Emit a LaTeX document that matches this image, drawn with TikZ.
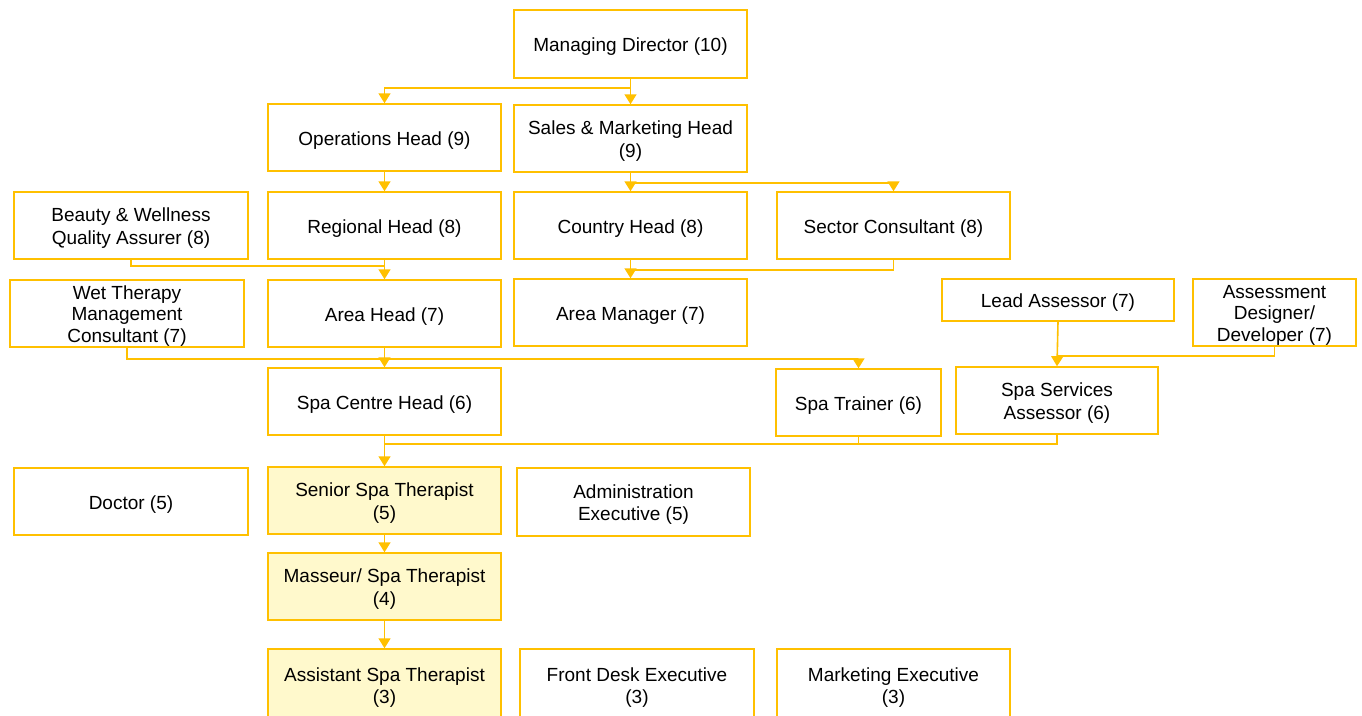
\documentclass[tikz,border=0pt]{standalone}
\usepackage{fontspec}
\setmainfont{Liberation Sans}
\usetikzlibrary{arrows.meta,calc}
\definecolor{gold}{RGB}{255,192,0}
\definecolor{paleyellow}{RGB}{255,249,204}
\tikzset{sz/.style 2 args={minimum width=#1pt,minimum height=#2pt}}
\newcommand\txt[1]{\raisebox{-3pt}[\height][\depth]{\begin{tabular}{@{}c@{}}#1\end{tabular}}}
\begin{document}
\begin{tikzpicture}[x=1pt,y=-1pt,
  box/.style={draw=gold, line width=1.5pt, fill=white, inner xsep=2pt, inner ysep=0pt,
              font=\fontsize{19}{22.5}\selectfont, text=black},
  three/.style={font=\fontsize{19}{21.5}\selectfont},
  hl/.style={box, fill=paleyellow},
  conn/.style={draw=gold, line width=1.6pt},
  arr/.style={conn, -{Triangle[width=12pt,length=10pt]}}]
\useasboundingbox (0,0) rectangle (1362,715);
\fill[white] (0,0) rectangle (1362,715);

\node[box, sz={233}{68}] (md) at (630.5,44) {\txt{Managing Director (10)}};
\node[box, sz={233}{67}] (ops) at (384.5,137.5) {\txt{Operations Head (9)}};
\node[box, sz={233}{67}] (sales) at (630.5,138.5) {\txt{Sales \& Marketing Head\\(9)}};
\node[box, sz={234}{67}] (beauty) at (131,225.5) {\txt{Beauty \& Wellness\\Quality Assurer (8)}};
\node[box, sz={233}{67}] (reg) at (384.5,225.5) {\txt{Regional Head (8)}};
\node[box, sz={233}{67}] (country) at (630.5,225.5) {\txt{Country Head (8)}};
\node[box, sz={233}{67}] (sector) at (893.5,225.5) {\txt{Sector Consultant (8)}};
\node[box, three, sz={234}{67}] (wet) at (127,313.5) {\txt{Wet Therapy\\Management\\Consultant (7)}};
\node[box, sz={233}{67}] (areahead) at (384.5,313.5) {\txt{Area Head (7)}};
\node[box, sz={233}{67}] (areamgr) at (630.5,312.5) {\txt{Area Manager (7)}};
\node[box, sz={232}{42}] (lead) at (1058,300) {\txt{Lead Assessor (7)}};
\node[box, three, sz={163}{67}] (designer) at (1274.5,312.5) {\txt{Assessment\\Designer/\\Developer (7)}};
\node[box, sz={233}{67}] (spacentre) at (384.5,401.5) {\txt{Spa Centre Head (6)}};
\node[box, sz={165}{67}] (trainer) at (858.5,402.5) {\txt{Spa Trainer (6)}};
\node[box, sz={202}{67}] (ssa) at (1057,400.5) {\txt{Spa Services\\Assessor (6)}};
\node[box, sz={234}{67}] (doctor) at (131,501.5) {\txt{Doctor (5)}};
\node[hl, sz={233}{67}] (senior) at (384.5,500.5) {\txt{Senior Spa Therapist\\(5)}};
\node[box, sz={233}{68}] (admin) at (633.5,502) {\txt{Administration\\Executive (5)}};
\node[hl, sz={233}{67}] (masseur) at (384.5,586.5) {\txt{Masseur/ Spa Therapist\\(4)}};
\node[hl, sz={233}{72}] (assistant) at (384.5,685) {\txt{Assistant Spa Therapist\\(3)}};
\node[box, sz={234}{72}] (frontdesk) at (637,685) {\txt{Front Desk Executive\\(3)}};
\node[box, sz={233}{72}] (marketing) at (893.5,685) {\txt{Marketing Executive\\(3)}};

\draw[arr] (md.south) -- ++(0,9) -| (ops.north);
\draw[arr] (md.south) -- (sales.north);
\draw[arr] (ops.south) -- (reg.north);
\draw[arr] (sales.south) -- (country.north);
\draw[arr] (sales.south) -- ++(0,10) -| (sector.north);
\draw[arr] (reg.south) -- (areahead.north);
\coordinate (jB) at ($(reg.south)+(0,6)$);
\draw[conn] (beauty.south) |- (jB);
\draw[arr] (country.south) -- (areamgr.north);
\coordinate (jS) at ($(country.south)+(0,10)$);
\draw[conn] (sector.south) |- (jS);
\draw[arr] (areahead.south) -- (spacentre.north);
\draw[arr] (wet.south) -- ++(0,11) -| (trainer.north);
\draw[arr] (lead.south) -- (ssa.north);
\coordinate (jD) at ($(ssa.north)+(0,-10)$);
\draw[conn] (designer.south) |- (jD);
\draw[arr] (spacentre.south) -- (senior.north);
\coordinate (jT) at ($(spacentre.south)+(0,8)$);
\draw[conn] (trainer.south) |- (jT);
\draw[conn] (ssa.south) |- (jT);
\draw[arr] (senior.south) -- (masseur.north);
\draw[arr] (masseur.south) -- (assistant.north);
\end{tikzpicture}
\end{document}
